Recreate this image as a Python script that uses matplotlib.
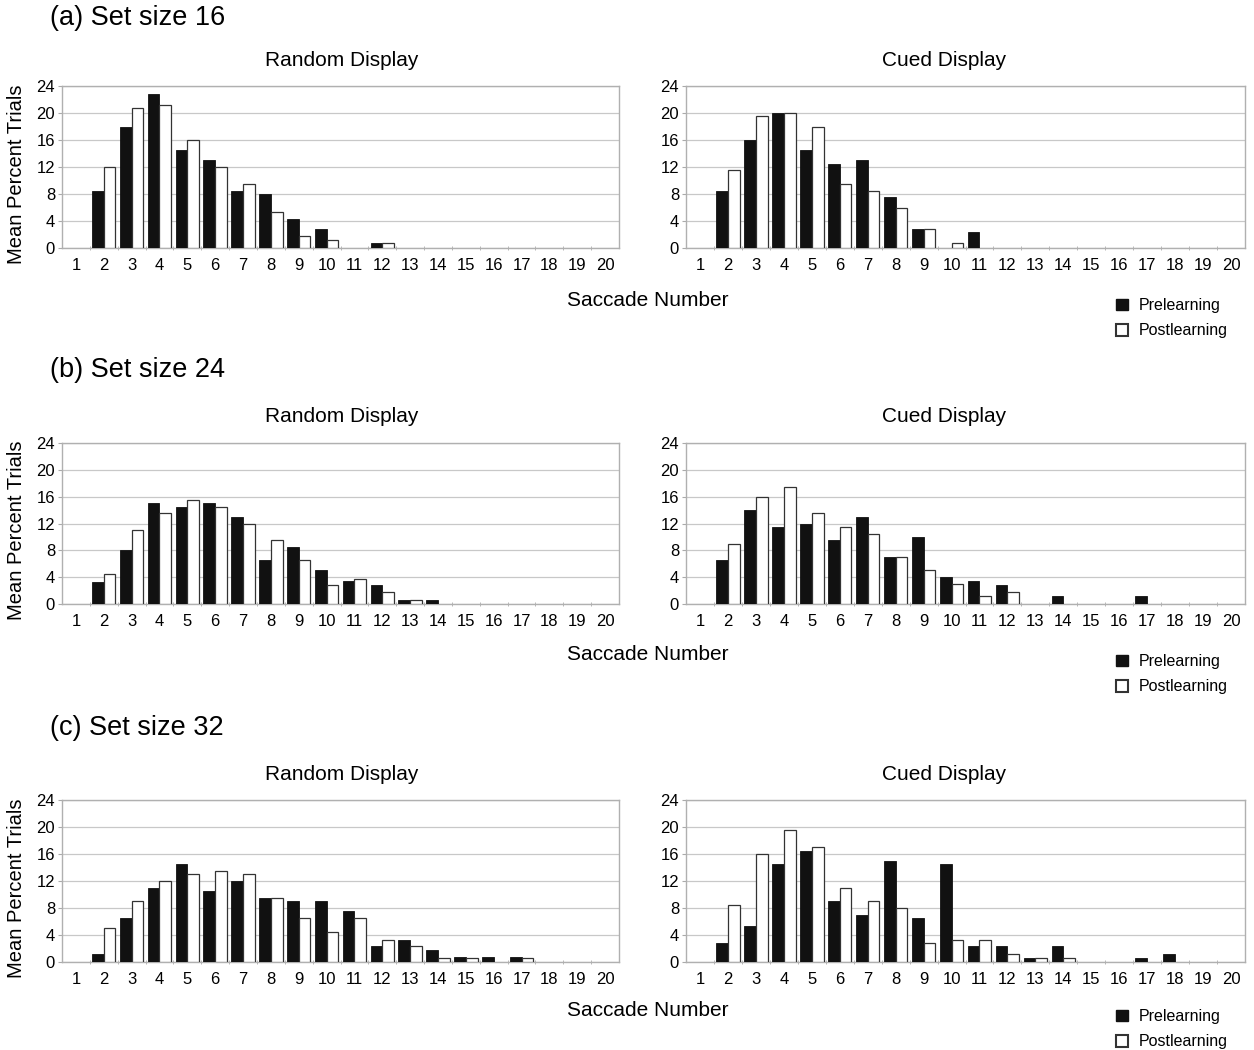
import numpy as np
import matplotlib
matplotlib.use("Agg")
import matplotlib.pyplot as plt
from matplotlib.patches import Patch

saccades = np.arange(1, 21)

# values indexed by saccade number 1..20
a_rand_pre = [0, 8.5, 18, 22.8, 14.5, 13, 8.5, 8, 4.3, 2.8, 0, 0.7, 0, 0, 0, 0, 0, 0, 0, 0]
a_rand_post = [0, 12, 20.7, 21.2, 16, 12, 9.5, 5.4, 1.8, 1.2, 0, 0.7, 0, 0, 0, 0, 0, 0, 0, 0]
a_cued_pre = [0, 8.5, 16, 20, 14.5, 12.5, 13, 7.5, 2.8, 0, 2.3, 0, 0, 0, 0, 0, 0, 0, 0, 0]
a_cued_post = [0, 11.5, 19.5, 20, 18, 9.5, 8.5, 6, 2.8, 0.8, 0, 0, 0, 0, 0, 0, 0, 0, 0, 0]

b_rand_pre = [0, 3.3, 8, 15, 14.5, 15, 13, 6.5, 8.5, 5, 3.4, 2.8, 0.6, 0.6, 0, 0, 0, 0, 0, 0]
b_rand_post = [0, 4.4, 11, 13.5, 15.5, 14.5, 12, 9.5, 6.5, 2.9, 3.8, 1.8, 0.6, 0, 0, 0, 0, 0, 0, 0]
b_cued_pre = [0, 6.5, 14, 11.5, 12, 9.5, 13, 7, 10, 4, 3.4, 2.9, 0, 1.2, 0, 0, 1.2, 0, 0, 0]
b_cued_post = [0, 9, 16, 17.5, 13.5, 11.5, 10.5, 7, 5, 3, 1.2, 1.8, 0, 0, 0, 0, 0, 0, 0, 0]

c_rand_pre = [0, 1.2, 6.5, 11, 14.5, 10.5, 12, 9.5, 9, 9, 7.5, 2.3, 3.3, 1.8, 0.7, 0.7, 0.7, 0, 0, 0]
c_rand_post = [0, 5, 9, 12, 13, 13.5, 13, 9.5, 6.5, 4.4, 6.5, 3.3, 2.3, 0.6, 0.6, 0, 0.6, 0, 0, 0]
c_cued_pre = [0, 2.8, 5.4, 14.5, 16.5, 9, 7, 15, 6.5, 14.5, 2.3, 2.3, 0.6, 2.3, 0, 0, 0.6, 1.2, 0, 0]
c_cued_post = [0, 8.5, 16, 19.6, 17, 11, 9, 8, 2.8, 3.3, 3.3, 1.2, 0.6, 0.6, 0, 0, 0, 0, 0, 0]

panels = [
    ("(a) Set size 16", a_rand_pre, a_rand_post, a_cued_pre, a_cued_post),
    ("(b) Set size 24", b_rand_pre, b_rand_post, b_cued_pre, b_cued_post),
    ("(c) Set size 32", c_rand_pre, c_rand_post, c_cued_pre, c_cued_post),
]

W, H = 1254, 1050
fig = plt.figure(figsize=(W / 100, H / 100), dpi=100)
plt.rcParams['font.family'] = ['Liberation Sans', 'DejaVu Sans']

# pixel geometry: axes top/bottom per row, label y, saccade label y, legend top
rows = [(86, 248, 18, 300, 298), (443, 604, 370, 655, 654), (800, 962, 728, 1011, 1009)]
cols = [(62, 619, 342, "Random Display"), (686, 1245, 944, "Cued Display")]
bw = 0.42


def draw(ax, pre, post):
    pre = np.array(pre)
    post = np.array(post)
    ax.bar(saccades - bw / 2, pre, width=bw, color="#111111",
           edgecolor=["#111111" if v > 0 else "none" for v in pre], linewidth=0.6, zorder=3)
    ax.bar(saccades + bw / 2, post, width=bw, color="white",
           edgecolor=["#333333" if v > 0 else "none" for v in post], linewidth=0.9, zorder=3)
    ax.set_xlim(0.5, 20.5)
    ax.set_ylim(0, 24)
    ax.set_yticks(range(0, 25, 4))
    ax.set_xticks(saccades)
    ax.set_xticks(np.arange(1.5, 20.5, 1), minor=True)
    ax.tick_params(axis="x", which="major", length=0, labelsize=12, pad=7)
    ax.tick_params(axis="x", which="minor", length=3, color="#aaaaaa", direction="inout")
    ax.tick_params(axis="y", length=3, color="#aaaaaa", labelsize=12, pad=2)
    ax.grid(axis="y", color="#c8c8c8", linewidth=0.9, zorder=0)
    for s in ax.spines.values():
        s.set_color("#b0b0b0")
        s.set_linewidth(1.0)


for (label, rp, rq, cp, cq), (top, bot, ly, sy, legy) in zip(panels, rows):
    for (l, r, tx, title), pre, post in zip(cols, [rp, cp], [rq, cq]):
        ax = fig.add_axes([l / W, 1 - bot / H, (r - l) / W, (bot - top) / H])
        draw(ax, pre, post)
        fig.text(tx / W, 1 - (top - 26) / H, title, fontsize=15, va="center", ha="center")
    fig.text(50 / W, 1 - ly / H, label, fontsize=19.5, va="center", ha="left")
    fig.text(648 / W, 1 - sy / H, "Saccade Number", fontsize=15, va="center", ha="center")
    fig.text(17 / W, 1 - (top + bot + 14) / 2 / H, "Mean Percent Trials", fontsize=14.5,
             rotation=90, va="center", ha="center")
    handles = [Patch(facecolor="#111111", edgecolor="#111111"),
               Patch(facecolor="white", edgecolor="#333333", linewidth=1.5)]
    fig.legend(handles, ["Prelearning", "Postlearning"], loc="upper left",
               bbox_to_anchor=(1116 / W, 1 - legy / H), frameon=False,
               fontsize=11.5, handlelength=0.75, handleheight=0.75, handletextpad=0.7,
               labelspacing=0.65, borderpad=0, borderaxespad=0)

fig.savefig("out.png", dpi=100)
